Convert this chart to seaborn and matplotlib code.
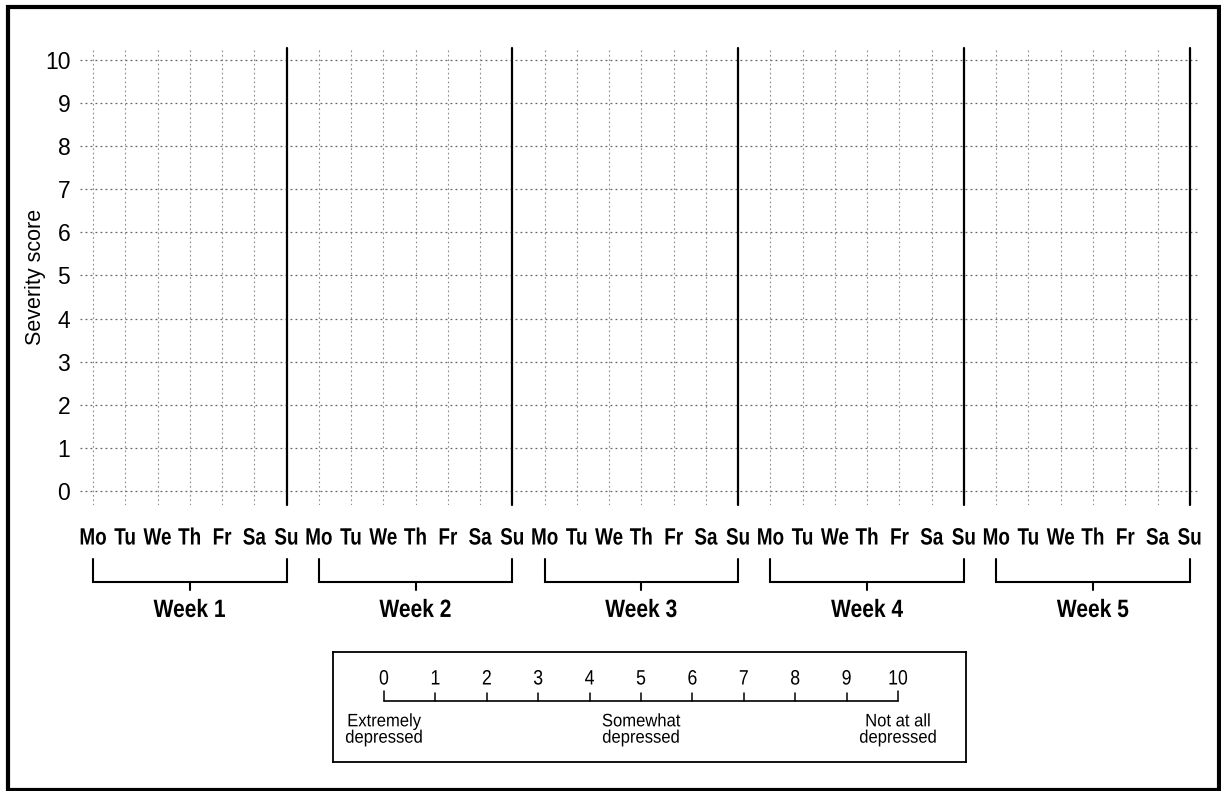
# Blank 5-week mood diary grid (severity score 0-10) with a rating scale key underneath
import numpy as np
import matplotlib.pyplot as plt
import matplotlib.patches as patches
import matplotlib.patheffects as pe
from matplotlib.transforms import Affine2D
import seaborn as sns

days = ["Mo", "Tu", "We", "Th", "Fr", "Sa", "Su"]
weeks = ["Week 1", "Week 2", "Week 3", "Week 4", "Week 5"]
scores = list(range(0, 11))
scale_values = list(range(0, 11))
scale_anchor_pos = [0, 5, 10]
scale_anchor_text = ["Extremely\ndepressed", "Somewhat\ndepressed", "Not at all\ndepressed"]

sns.set_theme(style="white")
fam = ["Liberation Sans", "DejaVu Sans"]
plt.rcParams["font.family"] = fam


class Condense(pe.AbstractPathEffect):
    # squeeze glyphs horizontally around the centre of each text line
    def __init__(self, sx):
        super().__init__()
        self.sx = sx

    def draw_path(self, renderer, gc, tpath, affine, rgbFace=None):
        ext = tpath.get_extents()
        cx = (ext.x0 + ext.x1) / 2
        squeeze = Affine2D().translate(-cx, 0).scale(self.sx, 1).translate(cx, 0)
        renderer.draw_path(gc, tpath, squeeze + affine, rgbFace)


W, H = 1221, 791
fig = plt.figure(figsize=(W / 100, H / 100), dpi=100)

def fbox(x0, y0, x1, y1):
    # pixel box (top-left origin) -> figure fraction rect
    return [x0 / W, 1 - y1 / H, (x1 - x0) / W, (y1 - y0) / H]

# Main grid axes
ax = fig.add_axes(fbox(80, 48, 1200, 505))
n_days = len(days) * len(weeks)
day_idx = np.arange(n_days)
ax.set_xlim(-0.403, 34.317)
ax.set_ylim(-0.325, 10.278)
sns.despine(ax=ax, left=True, bottom=True, top=True, right=True)

for s in scores:
    ax.axhline(s, color="#666666", lw=0.9, ls=(0, (1.5, 2.5)), zorder=1)
for d in day_idx:
    if d % 7 == 6:
        ax.plot([d, d], [-0.325, 10.278], color="black", lw=1.6, clip_on=False, zorder=3)
    else:
        ax.axvline(d, color="#8c8c8c", lw=0.8, ls=(0, (1.5, 2.5)), zorder=1)

ax.set_yticks(scores)
ax.set_yticklabels([str(s) for s in scores], fontsize=16.5, family=fam, color="black")
ax.set_ylabel("Severity score", fontsize=15.5, labelpad=-1, family=fam, color="black")
ax.set_xticks(day_idx)
ax.set_xticklabels(days * len(weeks), fontsize=17, fontweight="bold", family=fam,
                   color="black")
for lab in ax.get_xticklabels():
    lab.set_path_effects([Condense(0.8)])
ax.tick_params(axis="both", length=0)
ax.tick_params(axis="x", pad=15.5)
ax.tick_params(axis="y", pad=7)

# Week brackets and labels
for w, name in enumerate(weeks):
    a, b = w * 7, w * 7 + 6
    c = (a + b) / 2
    ax.plot([a, a, b, b], [-1.578, -2.111, -2.111, -1.578], color="black", lw=1.5,
            clip_on=False, solid_joinstyle="miter")
    ax.plot([c, c], [-2.111, -2.30], color="black", lw=1.5, clip_on=False)
    ax.text(c, -2.76, name, ha="center", va="center", fontsize=18,
            fontweight="bold", family=fam, color="black",
            path_effects=[Condense(0.84)])

# Rating scale key
kx0, kx1, ky0, ky1 = 333, 966, 652, 762
key = fig.add_axes(fbox(kx0, ky0, kx1, ky1))
ppu = (898 - 384) / 10
key.set_xlim(-(384 - kx0) / ppu, 10 + (kx1 - 898) / ppu)
key.set_ylim(ky1, ky0)
key.set_xticks([])
key.set_yticks([])
for sp in key.spines.values():
    sp.set_visible(True)
    sp.set_color("black")
    sp.set_linewidth(1.3)

key.plot([scale_values[0], scale_values[-1]], [701, 701], color="black", lw=1.2)
for v in scale_values:
    top = 691 if v in (scale_values[0], scale_values[-1]) else 693
    key.plot([v, v], [701, top], color="black", lw=1.1)
    key.text(v, 679, str(v), ha="center", va="center", fontsize=15, family=fam,
             color="black", path_effects=[Condense(0.85)])
for pos, txt in zip(scale_anchor_pos, scale_anchor_text):
    key.text(pos, 730, txt, ha="center", va="center", fontsize=13, family=fam,
             multialignment="center", linespacing=0.95, color="black",
             path_effects=[Condense(0.92)])

# Outer frame
fig.patches.append(patches.Rectangle((8 / W, 1 / H), (1219 - 8) / W, (783) / H,
                                     transform=fig.transFigure, fill=False,
                                     edgecolor="black", lw=3))

fig.savefig("out.png", dpi=100)
